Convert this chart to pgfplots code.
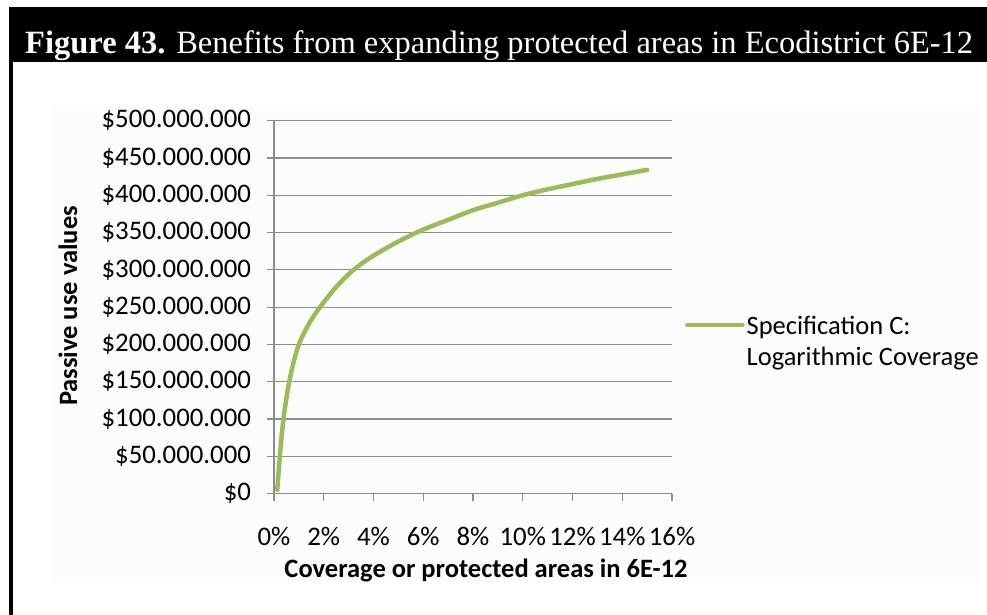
\documentclass[border=0pt]{standalone}
\usepackage{fontspec}
\setmainfont{Carlito}
\newfontfamily\timesfont{Liberation Serif}
\usepackage{pgfplots}
\pgfplotsset{compat=1.18}
\definecolor{lgreen}{HTML}{9BBB59}
\definecolor{gridgray}{HTML}{8C8C8C}
\begin{document}
\begin{tikzpicture}
\fill[white] (0pt,0pt) rectangle (987pt,-615pt);
\fill[black] (9pt,-7pt) rectangle (987pt,-62.5pt);
\fill[black] (9pt,-62pt) rectangle (12.5pt,-615pt);
\fill[black!1] (53pt,-107pt) rectangle (980pt,-582pt);
\node[anchor=base west, text=white, inner sep=0pt, font=\timesfont\fontsize{32.5}{36}\selectfont] at (25pt,-53.3pt) {\textbf{Figure 43.} Benefits from expanding protected areas in Ecodistrict 6E-12};
\begin{axis}[
  anchor=south west, at={(274pt,-493.5pt)},
  scale only axis, width=398pt, height=372.8pt,
  xmin=0, xmax=16, ymin=0, ymax=500,
  xtick={0,2,4,6,8,10,12,14,16},
  xticklabels={0\%,2\%,4\%,6\%,8\%,10\%,12\%,14\%,16\%},
  ytick={0,50,100,150,200,250,300,350,400,450,500},
  yticklabels={\$0,\$50.000.000,\$100.000.000,\$150.000.000,\$200.000.000,\$250.000.000,\$300.000.000,\$350.000.000,\$400.000.000,\$450.000.000,\$500.000.000},
  axis x line*=bottom, axis y line*=left,
  axis line style={gridgray, line width=1.2pt, -},
  ymajorgrids, major grid style={gridgray, line width=1.2pt},
  tick align=outside, major tick length=7.5pt,
  tick style={gridgray, line width=1.2pt},
  tick label style={font=\fontsize{26.8}{30}\selectfont, text=black},
  xticklabel style={yshift=-23pt},
  yticklabel style={xshift=-12pt},
  clip=false,
  legend style={at={(1.025,0.452)}, anchor=west, draw=none, fill=none,
    font=\fontsize{26.5}{30.3}\selectfont, column sep=0pt, nodes={inner sep=2pt}},
  legend cell align=left,
  legend image code/.code={\draw[#1] (0pt,0pt) -- (55pt,0pt);},
]
\addplot[lgreen, line width=4.5pt, line cap=round, line join=round, smooth] coordinates {
(0.13,5) (0.2,35) (0.3,75) (0.4,105) (0.5,128) (0.6,148) (0.8,178) (1.0,200)
(1.25,218) (1.5,233) (1.85,250) (2.5,277) (3.2,300) (4,319) (5,338) (6,354)
(7,367) (8,380) (9,390) (10,400) (11,408) (12,415) (13,422) (14,428) (15,434)
};
\addlegendentry{\begin{tabular}[t]{@{}l@{}}Specification C:\\Logarithmic Coverage\end{tabular}}
\end{axis}
\node[font=\bfseries\fontsize{26.5}{30}\selectfont, inner sep=0pt] at (486pt,-570pt) {Coverage or protected areas in 6E-12};
\node[font=\bfseries\fontsize{26.5}{30}\selectfont, inner sep=0pt, rotate=90] at (68pt,-306pt) {Passive use values};
\end{tikzpicture}
\end{document}
